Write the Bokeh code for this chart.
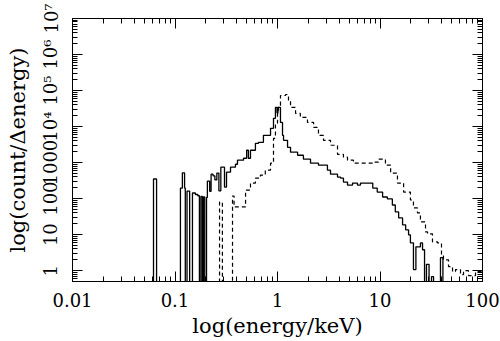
from bokeh.plotting import figure
from bokeh.models import LogAxis, FixedTicker, CustomJSTickFormatter, Range1d
from bokeh.embed import file_html
from bokeh.resources import INLINE

# solid histogram: bin left edges (keV) and count/energy (0 = empty bin)
solid_energy = [0.055, 0.0617, 0.0661, 0.113, 0.118, 0.124, 0.126, 0.131, 0.139, 0.148,
                0.158, 0.167, 0.173, 0.179, 0.185, 0.189, 0.195, 0.203, 0.207, 0.218,
                0.225, 0.235, 0.245, 0.256, 0.268, 0.280, 0.304, 0.318, 0.348, 0.389,
                0.407, 0.466, 0.500, 0.520, 0.545, 0.609, 0.653, 0.729, 0.855, 0.914,
                0.955, 0.99, 1.01, 1.069, 1.119, 1.145, 1.253, 1.34, 1.57, 1.79,
                2.10, 2.51, 3.07, 3.29, 3.85, 4.12, 4.40, 4.82, 5.4, 6.03,
                6.45, 8.5, 9.4, 10.6, 11.8, 13.2, 14.1, 15.2, 16.6, 17.8,
                19.0, 19.8, 21.2, 22.4, 24.8, 26.0, 27.2, 28.4, 30.1, 31.8,
                33.3, 38.9, 41.1, 50.0]
solid_count = [0, 350, 0, 196, 520, 196, 0, 162, 0, 143,
               130, 120, 0, 115, 0, 111, 0, 108, 306, 160,
               478, 430, 330, 510, 165, 746, 209, 543, 746, 900,
               1170, 1320, 2200, 1320, 2200, 3430, 3660, 5710, 8920, 16900,
               33900, 24000, 33900, 13060, 5710, 4160, 2660, 1940, 1600, 1240,
               962, 847, 617, 478, 395, 371, 287, 238, 270, 238,
               270, 196, 152, 111, 98, 66.5, 42.6, 29.1, 18.7, 13.6,
               9.9, 5.9, 1.07, 4.6, 5.9, 3.8, 0, 1.5, 0, 0.68,
               0, 2.3, 0, 0]

# dashed histogram
dashed_energy = [0.25, 0.272, 0.290, 0.364, 0.377, 0.488, 0.545, 0.609, 0.682, 0.76,
                 0.855, 0.914, 0.955, 1.0, 1.023, 1.069, 1.2, 1.28, 1.34, 1.50,
                 1.67, 1.96, 2.25, 2.51, 2.81, 3.29, 3.85, 4.40, 4.82, 5.51,
                 8.64, 9.66, 11.3, 12.7, 14.8, 17.0, 19.8, 21.2, 23.2, 24.8,
                 27.8, 29.1, 32.5, 36.4, 39.8, 41.6, 46.6, 51.0, 54.5, 61.0,
                 65.3, 73.0, 85.5, 100.0]
dashed_count = [0, 80.5, 0, 118, 58.6, 173, 270, 371, 449, 617,
                962, 4720, 12300, 23200, 38500, 72800, 77600, 52900, 33900, 23200,
                17900, 13060, 9500, 5710, 4160, 3030, 1700, 1410, 1170, 962,
                1030, 1240, 847, 510, 270, 152, 91.5, 55, 40, 22.6,
                11.9, 10.5, 6.3, 5.9, 2.8, 2.0, 1.3, 0.94, 1.07, 0.78,
                1.0, 0.73, 0.94, 0.94]

x_ticks = [0.01, 0.1, 1, 10, 100]
x_labels = ["0.01", "0.1", "1", "10", "100"]
y_ticks = [1, 10, 100, 1000, 1e4, 1e5, 1e6, 1e7]
y_labels = ["1", "10", "100", "1000", "10\u2074", "10\u2075", "10\u2076", "10\u2077"]

FLOOR = 0.1  # empty bins drawn below the axis
sc = [c if c > 0 else FLOOR for c in solid_count]
dc = [c if c > 0 else FLOOR for c in dashed_count]

FONT = "DejaVu Serif"

p = figure(width=500, height=341, x_axis_type="log", y_axis_type="log",
           x_range=Range1d(0.01, 100), y_range=Range1d(0.5, 1e7),
           output_backend="svg", toolbar_location=None,
           min_border_left=72, min_border_right=18, min_border_top=18,
           min_border_bottom=60)
p.grid.visible = False
p.outline_line_color = "black"

p.step(solid_energy, sc, mode="after", line_color="black", line_width=1.3)
p.step(dashed_energy, dc, mode="after", line_color="black", line_width=1.2,
       line_dash="4 3")

xminor = [m * 10.0 ** k for k in range(-2, 2) for m in range(2, 10)]
yminor = [m * 10.0 ** k for k in range(-1, 7) for m in range(2, 10) if m * 10.0 ** k >= 0.5]
xt = FixedTicker(ticks=x_ticks, minor_ticks=xminor)
yt = FixedTicker(ticks=y_ticks, minor_ticks=yminor)

def style(ax):
    ax.major_tick_in = 10
    ax.major_tick_out = 0
    ax.minor_tick_in = 5
    ax.minor_tick_out = 0
    ax.axis_line_color = "black"
    ax.major_tick_line_color = "black"
    ax.minor_tick_line_color = "black"
    ax.major_label_text_font = FONT
    ax.major_label_text_font_size = "18px"
    ax.major_label_text_color = "black"
    ax.axis_label_text_font = FONT
    ax.axis_label_text_font_size = "21px"
    ax.axis_label_text_font_style = "normal"
    ax.axis_label_text_color = "black"

xa = p.xaxis[0]
xa.ticker = xt
xa.major_label_overrides = dict(zip(x_ticks, x_labels))
xa.axis_label = "log(energy/keV)"
xa.major_label_standoff = 11
xa.axis_label_standoff = 4
style(xa)

ya = p.yaxis[0]
ya.ticker = yt
ya.major_label_overrides = dict(zip(y_ticks, y_labels))
ya.major_label_orientation = "vertical"
ya.axis_label = "log(count/\u0394energy)"
ya.major_label_standoff = 11
ya.axis_label_standoff = 8
style(ya)

top = LogAxis(ticker=xt, formatter=CustomJSTickFormatter(code="return ''"))
style(top)
p.add_layout(top, "above")
right = LogAxis(ticker=yt, formatter=CustomJSTickFormatter(code="return ''"))
style(right)
p.add_layout(right, "right")

open("out.html", "w").write(file_html(p, INLINE))
